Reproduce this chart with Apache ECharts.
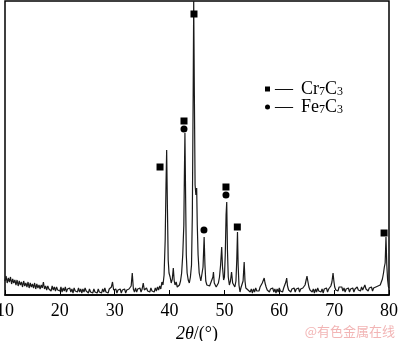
<!DOCTYPE html>
<html>
<head>
<meta charset="utf-8">
<script src="https://cdn.jsdelivr.net/npm/echarts@6/dist/echarts.min.js"></script>
<style>html,body{margin:0;padding:0;background:#fff;}#c{width:400px;height:341px;}</style>
</head>
<body>
<div id="c"></div>
<script>
// XRD pattern: [2theta (deg), intensity (a.u.)]
const patternLow = [
[10.0,14],[10.2,19],[10.4,12],[10.6,17],[10.8,13],[11.0,18],[11.2,11],[11.4,16],[11.6,12],[11.8,15],
[12.0,10],[12.2,15],[12.4,9],[12.6,14],[12.8,10],[13.0,13],[13.2,8],[13.4,14],[13.6,9],[13.8,12],
[14.0,8],[14.2,13],[14.4,7],[14.6,12],[14.8,8],[15.0,11],[15.2,7],[15.4,12],[15.6,6],[15.8,11],
[16.0,7],[16.2,10],[16.4,6],[16.6,10],[16.8,7],[17.0,13],[17.2,6],[17.4,9],[17.6,5],[17.8,9],
[18.0,6],[18.2,8],[18.4,4],[18.6,9],[18.8,5],[19.0,8],[19.2,4],[19.4,8],[19.6,5],[19.8,7],
[20.0,4],[20.2,8],[20.4,3],[20.6,7],[20.8,4],[21.0,8],[21.2,3],[21.4,6],[21.6,4],[21.8,7],
[22.0,3],[22.2,6],[22.4,2],[22.6,7],[22.8,4],[23.0,6],[23.2,3],[23.4,7],[23.6,3],[23.8,6],
[24.0,2],[24.2,6],[24.4,3],[24.6,7],[24.8,4],[25.0,6],[25.2,2],[25.4,6],[25.6,3],[25.8,5],
[26.0,2],[26.2,6],[26.4,3],[26.6,5],[26.8,2],[27.0,6],[27.2,3],[27.4,5],[27.6,2],[27.8,6],
[28.0,3],[28.2,7],[28.4,3],[28.6,5],[28.8,2],[29.0,6],[29.2,4],[29.4,8],[29.6,13],[29.8,5],
[30.0,3],[30.2,6],[30.4,2],[30.6,5],[30.8,3],[31.0,6],[31.2,2],[31.4,5],[31.6,3],[31.8,6],
[32.0,2],[32.2,5],[32.4,3],[32.6,6],[32.8,4],[33.0,9],[33.2,22],[33.4,6],[33.6,3],[33.8,7],
[34.0,3],[34.2,6],[34.4,4],[34.6,7],[34.8,3],[35.0,6],[35.2,12],[35.4,5],[35.6,3],[35.8,7],
[36.0,4],[36.2,6],[36.4,3],[36.6,7],[36.8,4],[37.0,6],[37.2,3],[37.4,7],[37.6,4],[37.8,8],
[38.0,5],[38.2,9],[38.4,6]
];
const patternPeaks = [
[38.6,13],[38.8,10],[39.0,20],[39.2,55],[39.35,110],[39.47,145],[39.6,90],[39.75,35],[39.9,22],
[40.1,18],[40.3,12],[40.5,16],[40.68,27],[40.85,14],[41.0,10],[41.2,13],[41.4,8],[41.6,7],[41.8,10],
[42.0,14],[42.2,22],[42.4,40],[42.5,55],[42.6,70],[42.7,120],[42.8,162],[42.92,100],[43.05,40],
[43.2,22],[43.4,15],[43.6,12],[43.8,18],[44.0,30],[44.15,80],[44.3,200],[44.4,294],[44.52,200],
[44.65,110],[44.8,100],[44.94,107],[45.05,70],[45.2,40],[45.4,22],[45.55,18],[45.7,14],[45.9,16],
[46.1,28],[46.3,58],[46.45,30],[46.6,14],[46.8,10],[46.9,8],[47.1,12],[47.3,9],[47.5,12],[47.7,11],
[47.9,18],[48.0,23],[48.15,12],[48.3,10],[48.5,8],[48.7,9],[48.9,12],[49.1,18],[49.3,30],[49.5,48],
[49.65,28],[49.85,15],[50.0,18],[50.15,40],[50.3,80],[50.42,93],[50.55,45],[50.7,18],[50.9,10],
[51.1,14],[51.3,23],[51.5,12],[51.7,10],[51.9,8],[52.1,14],[52.25,35],[52.38,63],[52.5,30],
[52.65,10],[52.84,3],[53.0,7],[53.2,9],[53.4,14],[53.6,33],[53.75,14],[53.9,7],[54.1,9],[54.3,5]
];
const patternHigh = [
[54.5,7],[54.7,3],[54.9,6],[55.1,2],[55.3,6],[55.5,3],[55.7,7],[55.9,4],[56.1,6],[56.3,4],
[56.5,8],[56.7,9],[56.9,12],[57.1,14],[57.25,17],[57.4,12],[57.6,8],[57.8,5],[58.0,7],[58.2,3],
[58.4,6],[58.6,4],[58.8,7],[59.0,3],[59.2,6],[59.4,2],[59.6,6],[59.8,3],[60.0,7],[60.2,4],
[60.4,6],[60.6,3],[60.8,7],[61.0,8],[61.2,13],[61.35,17],[61.5,9],[61.7,5],[61.9,7],[62.1,3],
[62.3,6],[62.5,4],[62.7,7],[62.9,3],[63.1,6],[63.3,4],[63.5,7],[63.7,3],[63.9,6],[64.1,4],
[64.3,7],[64.5,6],[64.7,10],[64.9,15],[65.05,19],[65.2,14],[65.4,8],[65.6,5],[65.8,7],[66.0,3],
[66.2,6],[66.4,2],[66.6,6],[66.8,3],[67.0,7],[67.2,4],[67.4,6],[67.6,3],[67.8,6],[68.0,2],
[68.2,6],[68.4,4],[68.6,7],[68.8,3],[69.0,6],[69.2,5],[69.4,9],[69.6,13],[69.8,22],[69.95,14],
[70.1,8],[70.3,5],[70.5,7],[70.7,4],[70.9,8],[71.05,10],[71.2,6],[71.4,8],[71.6,4],[71.8,7],
[72.0,3],[72.2,6],[72.4,4],[72.6,7],[72.8,3],[73.0,6],[73.2,4],[73.4,7],[73.6,3],[73.8,6],
[74.0,4],[74.2,8],[74.4,5],[74.6,7],[74.8,4],[75.0,8],[75.2,5],[75.4,7],[75.6,10],[75.8,6],
[76.0,8],[76.2,4],[76.4,7],[76.6,5],[76.8,8],[77.0,4],[77.2,7],[77.4,5],[77.6,8],[77.8,6],
[78.0,9],[78.2,7],[78.4,10],[78.6,12],[78.8,16],[79.0,22],[79.15,28],[79.3,32],[79.45,58],
[79.6,30],[79.75,15],[79.9,8],[80.0,7]
];
// phase markers [2theta, height]
const cr7c3Marks = [[38.26,128],[42.63,174],[44.45,281],[50.28,108],[52.35,68],[79.1,62]];
const fe7c3Marks = [[42.63,166],[46.27,65],[50.28,100]];
const xTickValues = [10,20,30,40,50,60,70,80];

const serif = '"Liberation Serif","Times New Roman",serif';
const chart = echarts.init(document.getElementById('c'), null, {renderer:'canvas'});
chart.setOption({
  animation:false,
  backgroundColor:'#fff',
  grid:{left:5,right:11,top:1,bottom:46,show:true,borderColor:'#000',borderWidth:1.5,
        containLabel:false,outerBoundsMode:'none'},
  xAxis:{
    type:'value',min:10,max:80,interval:10,
    name:'{i|2θ}/(°)',nameLocation:'middle',nameGap:25,
    nameTextStyle:{fontFamily:serif,fontSize:18,color:'#000',rich:{i:{fontFamily:serif,fontSize:18,fontStyle:'italic',color:'#000'}}},
    axisLine:{show:true,lineStyle:{color:'#000',width:1.5}},
    axisTick:{show:true,inside:true,length:5,lineStyle:{color:'#000',width:1}},
    axisLabel:{fontFamily:serif,fontSize:18,color:'#000',margin:7,
      formatter:function(v){return xTickValues.indexOf(v)>=0?String(v):'';}},
    splitLine:{show:false}
  },
  yAxis:{
    type:'value',min:0,max:294,
    axisLine:{show:false},axisTick:{show:false},axisLabel:{show:false},splitLine:{show:false}
  },
  legend:{
    orient:'vertical',left:265,top:80,itemGap:0,itemWidth:5,itemHeight:5,padding:0,
    data:[{name:'Cr7C3',icon:'rect'},{name:'Fe7C3',icon:'circle'}],
    formatter:function(n){return n==='Cr7C3'?'—{g|}{m|Cr}{s|7}{m|C}{s|3}':'—{g|}{m|Fe}{s|7}{m|C}{s|3}';},
    textStyle:{fontFamily:serif,fontSize:18,color:'#000',lineHeight:16,
      rich:{g:{width:8,lineHeight:16},
            m:{fontFamily:serif,fontSize:18,color:'#000',lineHeight:16},
            s:{fontFamily:serif,fontSize:12,color:'#000',lineHeight:10,padding:[6,0,0,0]}}}
  },
  graphic:[{type:'text',right:5,bottom:3,style:{text:'@有色金属在线',fontSize:13,fontFamily:'"Noto Sans CJK SC",sans-serif',fill:'#f2b5b5'}}],
  series:[
    {type:'line',name:'pattern',data:patternLow.concat(patternPeaks,patternHigh),showSymbol:false,symbol:'none',
     lineStyle:{color:'#1a1a1a',width:1.2},z:2},
    {type:'scatter',name:'Cr7C3',data:cr7c3Marks,symbol:'rect',symbolSize:7,itemStyle:{color:'#000',opacity:1},z:3},
    {type:'scatter',name:'Fe7C3',data:fe7c3Marks,symbol:'circle',symbolSize:7,itemStyle:{color:'#000',opacity:1},z:3}
  ]
});
</script>
</body>
</html>
